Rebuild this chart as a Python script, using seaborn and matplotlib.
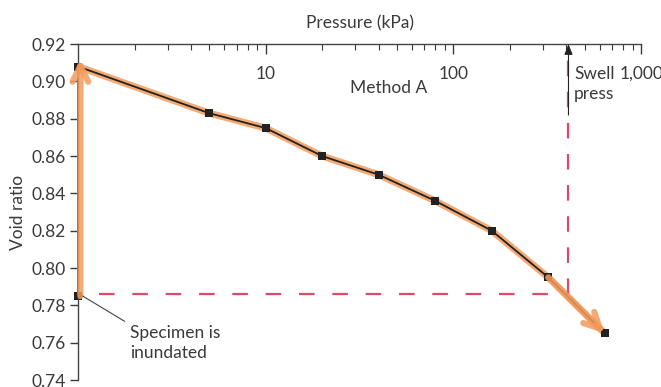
import numpy as np
import pandas as pd
import seaborn as sns
import matplotlib.pyplot as plt
from matplotlib.ticker import FixedLocator, LogLocator, FuncFormatter, NullFormatter

# Dados (ensaio de expansão, Método A)
pressure = [1, 1, 5, 10, 20, 40, 80, 160, 320, 640]
void_ratio = [0.785, 0.908, 0.883, 0.875, 0.860, 0.850, 0.836, 0.820, 0.795, 0.765]
swell_pressure = 410
inundated_void = 0.786
x_ticks = [10, 100, 1000]
y_ticks = [0.74, 0.76, 0.78, 0.80, 0.82, 0.84, 0.86, 0.88, 0.90, 0.92]

df = pd.DataFrame({"pressure": pressure, "void_ratio": void_ratio})
curve = df.iloc[1:]

sns.set_theme(style="white")
plt.rcParams.update({
    "font.family": ["Lato", "DejaVu Sans"],
    "font.size": 12.5,
    "text.color": "#3a3a3a",
    "axes.labelcolor": "#3a3a3a",
    "xtick.color": "#3a3a3a",
    "ytick.color": "#3a3a3a",
})

orange = "#f29b5c"
red = "#dc4a6a"
ink = "#222222"

fig = plt.figure(figsize=(6.61, 3.87), dpi=100)
ax = fig.add_axes([0.118, 0.018, 0.852, 0.868])

# Curva laranja (desenhada à mão no original)
sns.lineplot(data=curve, x="pressure", y="void_ratio", sort=False, estimator=None,
             ax=ax, color=orange, lw=5, alpha=0.85, solid_capstyle="round")
ax.annotate("", xy=(curve.pressure.iloc[-1], curve.void_ratio.iloc[-1]),
            xytext=(curve.pressure.iloc[-2], curve.void_ratio.iloc[-2]),
            arrowprops=dict(arrowstyle="->,head_length=0.9,head_width=0.45",
                            lw=4.5, color=orange, alpha=0.85, shrinkA=0, shrinkB=0))
ax.annotate("", xy=(1.03, 0.912), xytext=(1.03, void_ratio[0]),
            arrowprops=dict(arrowstyle="->,head_length=0.9,head_width=0.45",
                            lw=4.5, color=orange, alpha=0.85, shrinkA=0, shrinkB=0),
            annotation_clip=False)

# Linhas de construção da pressão de expansão
ax.plot([1.3, swell_pressure], [inundated_void, inundated_void], color=red,
        lw=1.6, dashes=(7, 8))
ax.plot([swell_pressure, swell_pressure], [inundated_void, 0.92], color=red,
        lw=1.6, dashes=(7, 7))
ax.annotate("", xy=(swell_pressure, 0.92), xytext=(swell_pressure, 0.882),
            arrowprops=dict(arrowstyle="-|>,head_length=0.5,head_width=0.2",
                            lw=0.8, color=ink, shrinkA=0, shrinkB=0))

# Curva de ensaio
sns.lineplot(data=df, x="pressure", y="void_ratio", sort=False, estimator=None,
             ax=ax, color=ink, lw=1.3, marker="s", markersize=6,
             markeredgewidth=0, clip_on=False)

ax.set_xscale("log")
ax.set_xlim(1, 1000)
ax.set_ylim(0.74, 0.92)
ax.set_yticks(y_ticks)
ax.yaxis.set_major_formatter(FuncFormatter(lambda v, p: f"{v:.2f}"))

ax.xaxis.set_ticks_position("top")
ax.xaxis.set_label_position("top")
ax.xaxis.set_major_locator(FixedLocator(x_ticks))
ax.xaxis.set_major_formatter(FuncFormatter(lambda v, p: f"{v:,.0f}"))
ax.xaxis.set_minor_locator(LogLocator(base=10, subs=np.arange(2, 10)))
ax.xaxis.set_minor_formatter(NullFormatter())
ax.tick_params(axis="x", which="major", direction="in", length=7, width=1,
               pad=-27, labelsize=12.5)
ax.tick_params(axis="x", which="minor", direction="in", length=4, width=0.8)
ax.tick_params(axis="y", direction="out", length=6, width=1, left=True,
               labelsize=12.5, pad=3)

for side in ["right", "bottom"]:
    ax.spines[side].set_visible(False)
for side in ["top", "left"]:
    ax.spines[side].set_color("#444444")
    ax.spines[side].set_linewidth(1)

ax.set_xlabel("Pressure (kPa)", fontsize=12.5, labelpad=8)
ax.set_ylabel("Void ratio", fontsize=12.5, labelpad=4)

ax.text(45, 0.8965, "Method A", ha="center", va="center", fontsize=12.5)
ax.text(440, 0.8985, "Swell\npress", ha="left", va="center", fontsize=12.5,
        linespacing=1.3)
ax.annotate("Specimen is\ninundated", xy=(1.06, 0.785), xytext=(1.9, 0.760),
            ha="left", va="center", fontsize=12.5, linespacing=1.3,
            arrowprops=dict(arrowstyle="-", lw=0.8, color="#444444",
                            relpos=(0, 1), shrinkA=2, shrinkB=0))

fig.savefig("out.png", dpi=100, facecolor="white")
